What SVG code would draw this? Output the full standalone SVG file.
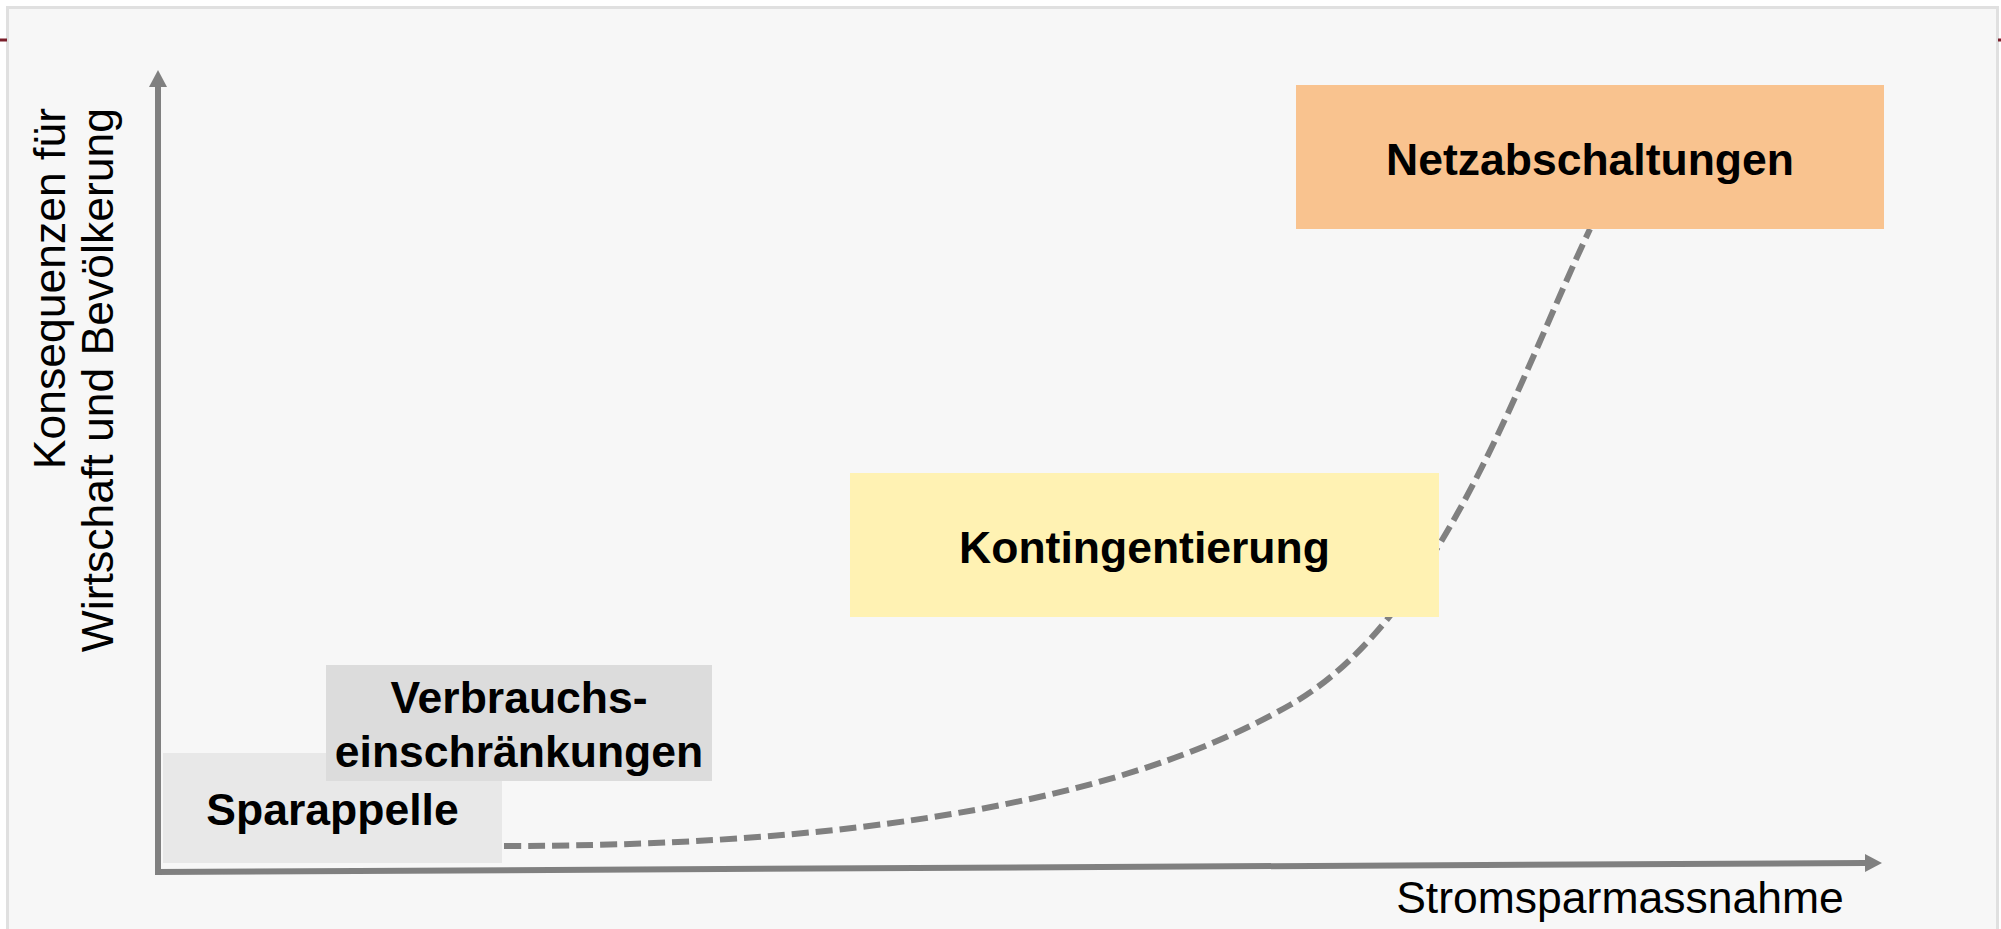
<svg xmlns="http://www.w3.org/2000/svg" width="2001" height="929" viewBox="0 0 2001 929">
  <style>
    .lbl { font-family: "Liberation Sans", Arial, sans-serif; font-size: 44.5px; fill: #000000; }
    .node { font-family: "Liberation Sans", Arial, sans-serif; font-size: 44.5px; font-weight: bold; fill: #000000; text-anchor: middle; }
    .axis { stroke: #808080; stroke-width: 6; fill: none; }
    .curve { stroke: #808080; stroke-width: 6; fill: none; stroke-dasharray: 17 7; }
  </style>
  <defs>
    <marker id="arrow" markerUnits="userSpaceOnUse" markerWidth="17" markerHeight="18" viewBox="0 0 17 18" refX="0" refY="9" orient="auto">
      <path d="M0,0 L17,9 L0,18 Z" fill="#808080"/>
    </marker>
  </defs>

  <rect x="0" y="0" width="2001" height="929" fill="#ffffff"/>
  <rect x="7.5" y="7.5" width="1990" height="940" fill="#f7f7f7" stroke="#e0e0e0" stroke-width="3"/>
  <line x1="0" y1="40" x2="7" y2="40" stroke="#7a1f2b" stroke-width="3"/>
  <line x1="1998" y1="40" x2="2001" y2="40" stroke="#7a1f2b" stroke-width="3"/>

  <g id="connectors">
    <path class="curve" d="M504,846 C1000,846 1200,756 1290,705 C1440,620 1520,376 1590,229"/>
  </g>

  <g id="axes">
    <line class="axis" x1="158" y1="875" x2="158" y2="87" marker-end="url(#arrow)"/>
    <line class="axis" x1="155" y1="872" x2="1865" y2="863" marker-end="url(#arrow)"/>
  </g>

  <g id="label-y">
    <text class="lbl" transform="rotate(-90)" x="-108" y="65" text-anchor="end">Konsequenzen für</text>
    <text class="lbl" transform="rotate(-90)" x="-108" y="113" text-anchor="end">Wirtschaft und Bevölkerung</text>
  </g>
  <g id="label-x">
    <text class="lbl" x="1620" y="913" text-anchor="middle">Stromsparmassnahme</text>
  </g>

  <g id="node-sparappelle">
    <rect x="163" y="753" width="339" height="110" fill="#e8e8e8"/>
    <text class="node" x="332.5" y="825">Sparappelle</text>
  </g>
  <g id="node-verbrauch">
    <rect x="326" y="665" width="386" height="116" fill="#dcdcdc"/>
    <text class="node" x="519" y="713">Verbrauchs-</text>
    <text class="node" x="519" y="767">einschränkungen</text>
  </g>
  <g id="node-kontingentierung">
    <rect x="850" y="473" width="589" height="144" fill="#fff2b3"/>
    <text class="node" x="1144.5" y="563">Kontingentierung</text>
  </g>
  <g id="node-netzabschaltungen">
    <rect x="1296" y="85" width="588" height="144" fill="#f9c38f"/>
    <text class="node" x="1590" y="175">Netzabschaltungen</text>
  </g>
</svg>
